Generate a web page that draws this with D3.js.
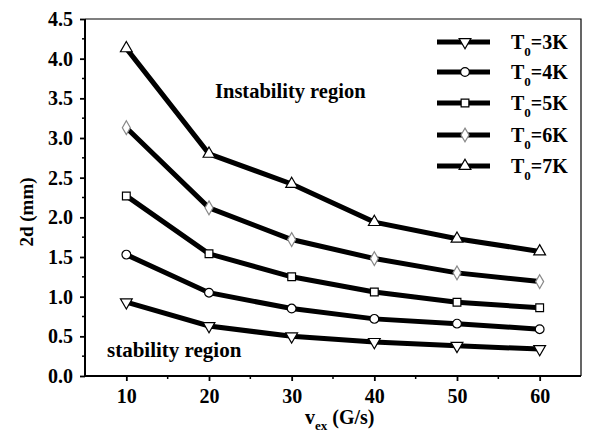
<!DOCTYPE html>
<html>
<head>
<meta charset="utf-8">
<script src="https://cdn.jsdelivr.net/npm/d3@7"></script>
<style>
  body { margin: 0; background: #fff; }
  text { font-family: "Liberation Serif", "Times New Roman", serif; font-weight: bold; fill: #000; }
</style>
</head>
<body>
<svg width="589" height="435"></svg>
<script>
// x values (G/s)
var rates = [10, 20, 30, 40, 50, 60];
// 2d (mm) for each T0
var t3 = [0.93, 0.63, 0.50, 0.43, 0.38, 0.34];
var t4 = [1.53, 1.05, 0.85, 0.72, 0.66, 0.59];
var t5 = [2.27, 1.54, 1.25, 1.06, 0.93, 0.86];
var t6 = [3.13, 2.12, 1.72, 1.48, 1.30, 1.19];
var t7 = [4.13, 2.80, 2.42, 1.94, 1.73, 1.57];
var seriesNames = ['3K', '4K', '5K', '6K', '7K'];
var xTicks = [10, 20, 30, 40, 50, 60];
var yTicks = [0, 0.5, 1, 1.5, 2, 2.5, 3, 3.5, 4, 4.5];

var series = [
    {name: seriesNames[0], values: t3, symbol: 'down'},
    {name: seriesNames[1], values: t4, symbol: 'circle'},
    {name: seriesNames[2], values: t5, symbol: 'square'},
    {name: seriesNames[3], values: t6, symbol: 'diamond'},
    {name: seriesNames[4], values: t7, symbol: 'triangle'}
];

var svg = d3.select('svg');
var padding = {t: 19, r: 8, b: 59, l: 85};
var svgWidth = +svg.attr('width');
var svgHeight = +svg.attr('height');
var chartWidth = svgWidth - padding.l - padding.r;
var chartHeight = svgHeight - padding.t - padding.b;

var xScale = d3.scaleLinear().domain([5, 65]).range([0, chartWidth]);
var yScale = d3.scaleLinear().domain([0, 4.5]).range([chartHeight, 0]);

var chartG = svg.append('g')
    .attr('transform', 'translate(' + [padding.l, padding.t] + ')');

// frame (top and right)
chartG.append('path')
    .attr('d', 'M0,0H' + chartWidth + 'V' + chartHeight)
    .attr('fill', 'none')
    .attr('stroke', '#000')
    .attr('stroke-width', 1.2);

// minor ticks
var yMinor = d3.range(0.25, 4.5, 0.5);
chartG.selectAll('.yminor').data(yMinor).enter().append('line')
    .attr('x1', -3).attr('x2', 0)
    .attr('y1', function(d){ return yScale(d); })
    .attr('y2', function(d){ return yScale(d); })
    .attr('stroke', '#000').attr('stroke-width', 1.5);
var xMinor = [15, 25, 35, 45, 55];
chartG.selectAll('.xminor').data(xMinor).enter().append('line')
    .attr('y1', chartHeight).attr('y2', chartHeight + 3)
    .attr('x1', function(d){ return xScale(d); })
    .attr('x2', function(d){ return xScale(d); })
    .attr('stroke', '#000').attr('stroke-width', 1.5);

var xAxis = chartG.append('g')
    .attr('transform', 'translate(0,' + chartHeight + ')')
    .call(d3.axisBottom(xScale).tickValues(xTicks).tickSize(5).tickPadding(8).tickFormat(d3.format('d')));
var yAxis = chartG.append('g')
    .call(d3.axisLeft(yScale).tickValues(yTicks).tickSize(5).tickPadding(7).tickFormat(d3.format('.1f')));

[xAxis, yAxis].forEach(function(a){
    a.select('.domain').attr('stroke-width', 2).attr('stroke', '#000');
    a.selectAll('.tick line').attr('stroke-width', 1.8).attr('stroke', '#000');
    a.selectAll('.tick text')
        .style('font-family', '"Liberation Serif", serif')
        .style('font-weight', 'bold')
        .style('font-size', '20px')
        .attr('fill', '#000');
});
xAxis.select('.domain').attr('d', 'M0,0H' + chartWidth);
yAxis.select('.domain').attr('d', 'M0,0V' + chartHeight);

// lines
var line = d3.line()
    .x(function(d, i){ return xScale(rates[i]); })
    .y(function(d){ return yScale(d); });

chartG.selectAll('.series').data(series).enter().append('path')
    .attr('class', 'series')
    .attr('d', function(d){ return line(d.values); })
    .attr('fill', 'none')
    .attr('stroke', '#000')
    .attr('stroke-width', 5);

function symbolPath(kind) {
    var s = {
        down: d3.symbolTriangle, circle: d3.symbolCircle, square: d3.symbolSquare,
        diamond: d3.symbolDiamond, triangle: d3.symbolTriangle
    }[kind];
    return d3.symbol().type(s).size(kind === 'diamond' ? 55 : 60)();
}
function symbolRotate(kind) { return kind === 'down' ? ' rotate(180)' : ''; }

series.forEach(function(s) {
    chartG.selectAll(null).data(s.values).enter().append('path')
        .attr('d', symbolPath(s.symbol))
        .attr('transform', function(d, i){
            return 'translate(' + [xScale(rates[i]), yScale(d)] + ')' + symbolRotate(s.symbol);
        })
        .attr('fill', '#fff')
        .attr('stroke', s.symbol === 'diamond' ? '#888' : '#000')
        .attr('stroke-width', 1.2);
});

// legend
var legendY = [42, 72, 103, 135, 166];
var legend = svg.append('g');
series.forEach(function(s, i) {
    var g = legend.append('g').attr('transform', 'translate(437,' + legendY[i] + ')');
    g.append('line').attr('x1', 0).attr('x2', 53).attr('stroke', '#000').attr('stroke-width', 5);
    g.append('path').attr('d', symbolPath(s.symbol))
        .attr('transform', 'translate(28,0)' + symbolRotate(s.symbol))
        .attr('fill', '#fff')
        .attr('stroke', s.symbol === 'diamond' ? '#888' : '#000')
        .attr('stroke-width', 1.2);
    var t = g.append('text').attr('x', 74).attr('y', 7).style('font-size', '20px');
    t.append('tspan').text('T');
    t.append('tspan').attr('dy', 7).style('font-size', '13px').text('0');
    t.append('tspan').attr('dy', -7).text('=' + s.name);
});

// region labels
svg.append('text').attr('x', 215).attr('y', 98).style('font-size', '20.5px').text('Instability region');
svg.append('text').attr('x', 107).attr('y', 357).style('font-size', '21px').text('stability region');

// axis titles
var xt = svg.append('text')
    .attr('x', 305).attr('y', 424)
    .style('font-size', '20px');
xt.append('tspan').text('v');
xt.append('tspan').attr('dy', 6).style('font-size', '13px').text('ex');
xt.append('tspan').attr('dy', -6).text(' (G/s)');

svg.append('text')
    .attr('transform', 'translate(33,212) rotate(-90)')
    .attr('text-anchor', 'middle')
    .style('font-size', '19px')
    .text('2d (mm)');
</script>
</body>
</html>
